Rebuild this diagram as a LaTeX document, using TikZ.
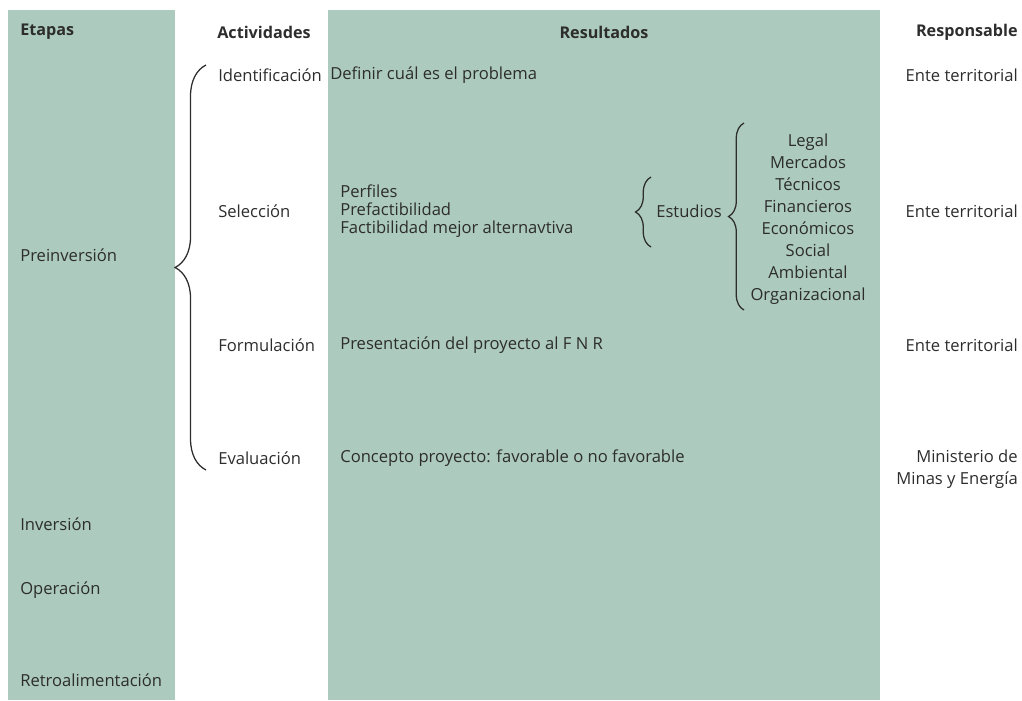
\documentclass[tikz,border=0pt]{standalone}
\usepackage{fontspec}
\setmainfont{Open Sans}
\usetikzlibrary{positioning,decorations.pathreplacing}
\definecolor{stripColor}{RGB}{172,202,190}
\definecolor{textColor}{RGB}{45,45,45}
\tikzset{txt/.style={anchor=west, inner sep=0pt, text=textColor, align=left, font=\fontsize{11.8}{13}\selectfont}}
\tikzset{head/.style={txt, font=\fontsize{11.5}{13}\selectfont\bfseries}}
\tikzset{resp/.style={txt, anchor=east, align=right, font=\fontsize{11.8}{15.5}\selectfont}}
\tikzset{curly/.style={draw=textColor, line width=0.9pt, decorate, decoration={brace, amplitude=#1}}}

\begin{document}
\begin{tikzpicture}[x=0.025cm, y=-0.025cm]
	% Strips
	\useasboundingbox (0,0) rectangle (1022,700);
	\fill[stripColor] (8,10) rectangle (175,700);
	\fill[stripColor] (328,10) rectangle (880,700);

	% Headers
	\node (etapas) [head] at (20,32) {Etapas};
	\node (actividades) [head] at (217,32) {Actividades};
	\node (resultados) [head, anchor=center] at (604,32) {Resultados};
	\node (responsable) [head, anchor=east] at (1018,32) {Responsable};

	% Etapas
	\node (preinversion) [txt] at (20,255) {Preinversión};
	\node (inversion) [txt] at (20,524) {Inversión};
	\node (operacion) [txt] at (20,590) {Operación};
	\node (retro) [txt] at (20,680) {Retroalimentación};

	% Actividades
	\node (identificacion) [txt] at (218,75) {Identificación};
	\node (seleccion) [txt] at (218,211) {Selección};
	\node (formulacion) [txt] at (218,345) {Formulación};
	\node (evaluacion) [txt] at (218,458) {Evaluación};

	% Resultados
	\node (definir) [txt] at (330,75) {Definir cuál es el problema};
	\node (perfiles) [txt, font=\fontsize{11.8}{12.8}\selectfont] at (340,211) {Perfiles\\Prefactibilidad\\Factibilidad mejor alternavtiva};
	\node (estudios) [txt] at (656,211) {Estudios};
	\node (tipos) [txt, anchor=center, align=center, font=\fontsize{11.8}{15.6}\selectfont] at (808,219) {Legal\\Mercados\\Técnicos\\Financieros\\Económicos\\Social\\Ambiental\\Organizacional};
	\node (presentacion) [txt] at (340,345) {Presentación del proyecto al F N R};
	\node (concepto) [txt] at (340,458) {Concepto proyecto: favorable o no favorable};

	% Responsable
	\node (ente1) [resp] at (1018,75) {Ente territorial};
	\node (ente2) [resp] at (1018,211) {Ente territorial};
	\node (ente3) [resp] at (1018,345) {Ente territorial};
	\node (ministerio) [resp] at (1018,469) {Ministerio de\\Minas y Energía};

	% Braces
	\coordinate (bigtop) at (206,65);
	\coordinate (bigbot) at (206,470);
	\coordinate (esttop) at (651,177);
	\coordinate (estbot) at (651,247);
	\coordinate (tiptop) at (744,123);
	\coordinate (tipbot) at (744,310);
	\draw [curly=22] (bigbot) -- (bigtop);
	\draw [curly=11] (estbot) -- (esttop);
	\draw [curly=11] (tipbot) -- (tiptop);
\end{tikzpicture}
\end{document}
